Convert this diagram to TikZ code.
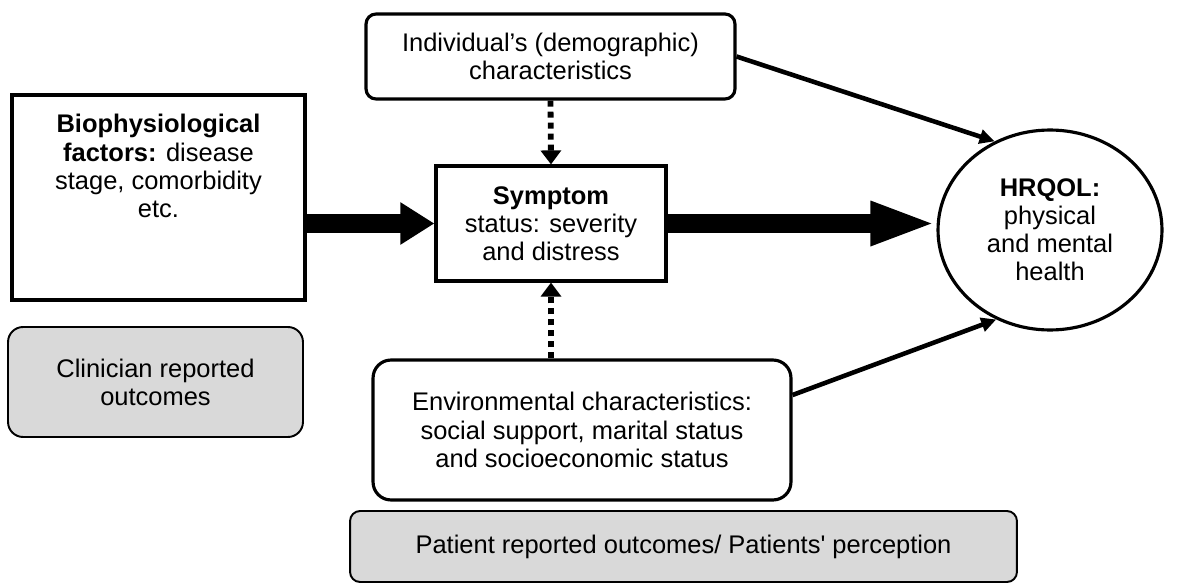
\documentclass[tikz,border=0pt]{standalone}
\usepackage{fontspec}
\setmainfont{Liberation Sans}
\usetikzlibrary{arrows.meta,shapes.geometric}
\definecolor{outgrey}{RGB}{217,217,217}

\begin{document}
\begin{tikzpicture}[x=0.02cm,y=-0.02cm,
    every node/.style={font=\fontsize{14.5}{16}\selectfont, align=center},
    plainbox/.style={draw, line width=1.8pt, inner sep=0pt},
    roundbox/.style={draw, line width=1.8pt, rounded corners=#1, inner sep=0pt},
    outbox/.style={draw, line width=1.1pt, fill=outgrey, rounded corners=#1, inner sep=0pt},
    bigarrow/.style={line width=0.38cm, -{Triangle[length=#1, width=0.8cm]}},
    thinarrow/.style={line width=2.6pt, -{Triangle[length=0.3cm, width=0.28cm]}},
    dotarrow/.style={line width=3.3pt, dash pattern=on 0.12cm off 0.1cm, -{Triangle[length=0.28cm, width=0.4cm]}}]
    \useasboundingbox (0,0) rectangle (1180,588);

    % boxes
    \node[plainbox, minimum width=5.86cm, minimum height=4.1cm] (bio) at (158.5,197.5) {};
    \node (biotext) at (158.5,166) {\textbf{Biophysiological}\\\textbf{factors:} disease\\stage, comorbidity\\etc.};
    \node[roundbox=0.2cm, minimum width=7.38cm, minimum height=1.7cm] (indiv) at (550.5,56.5)
        {Individual’s (demographic)\\characteristics};
    \node[plainbox, minimum width=4.6cm, minimum height=2.3cm] (symptom) at (551,223.5)
        {\textbf{Symptom}\\status: severity\\and distress};
    \node[roundbox=0.36cm, minimum width=8.36cm, minimum height=2.8cm] (env) at (582,430)
        {Environmental characteristics:\\social support, marital status\\and socioeconomic status};
    \node[draw, ellipse, line width=1.8pt, inner sep=0pt, minimum width=4.48cm, minimum height=4cm] (hrqol) at (1050,230)
        {\textbf{HRQOL:}\\physical\\and mental\\health};

    % outcome labels
    \node[outbox=0.3cm, minimum width=5.9cm, minimum height=2.2cm] (clinician) at (155.5,382)
        {Clinician reported\\outcomes};
    \node[outbox=0.2cm, minimum width=13.34cm, minimum height=1.42cm] (patient) at (683.5,546.5)
        {Patient reported outcomes/ Patients\textquotesingle{} perception};

    % connectors
    \draw[bigarrow=0.68cm] (bio.east |- symptom.west) -- (symptom.west);
    \draw[bigarrow=1.32cm] (symptom.east) -- (symptom.east -| hrqol.west);
    \draw[thinarrow] (indiv.east) -- (hrqol.122);
    \draw[thinarrow] ([yshift=0.7cm]env.east) -- (hrqol.239);
    \draw[dotarrow] (indiv.south) -- (symptom.north);
    \draw[dotarrow] (symptom.south |- env.north) -- (symptom.south);
\end{tikzpicture}
\end{document}
